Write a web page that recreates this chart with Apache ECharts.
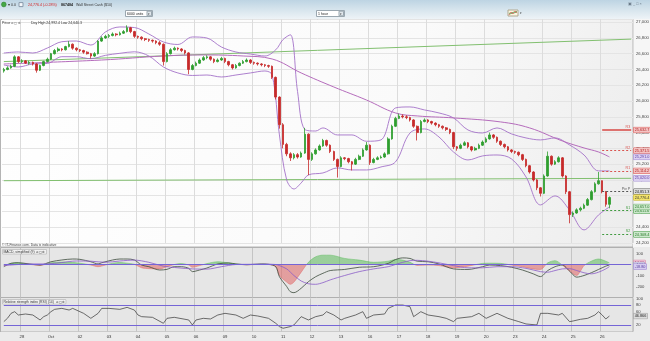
<!DOCTYPE html>
<html><head><meta charset="utf-8">
<script src="https://cdn.jsdelivr.net/npm/echarts/dist/echarts.min.js"></script>
<style>html,body{margin:0;padding:0;background:#ececec;overflow:hidden}#c{width:650px;height:341px}</style>
</head><body><div id="c"></div>
<script>
// ================= DATA =================
const dayLabels = ['27','28','Oct','02','03','04','05','06','09','10','11','12','13','16','17','18','19','20','23','24','25','26'];
const candlesPerDay = [5,8,8,8,8,8,8,8,8,8,8,8,8,8,8,8,8,8,8,8,8,3];
const emptySlots = 6;

// hourly candles: [open, close, low, high]
const ohlc = [
[26380,26400,26360,26420],[26400,26420,26390,26440],[26420,26440,26410,26460],[26440,26560,26430,26580],[26560,26500,26480,26570],
[26500,26510,26480,26530],[26510,26480,26470,26520],[26480,26490,26460,26510],[26490,26470,26450,26500],[26470,26390,26360,26480],[26390,26450,26380,26460],[26450,26500,26440,26510],[26500,26530,26490,26550],
[26530,26600,26520,26610],[26600,26640,26590,26660],[26640,26660,26620,26680],[26660,26650,26630,26670],[26650,26690,26640,26700],[26690,26720,26680,26760],[26720,26670,26650,26730],[26670,26650,26630,26680],
[26650,26640,26620,26660],[26640,26620,26600,26650],[26620,26600,26590,26630],[26600,26570,26540,26610],[26570,26600,26560,26620],[26600,26760,26590,26770],[26760,26800,26750,26820],[26800,26820,26790,26840],
[26820,26830,26800,26850],[26830,26850,26820,26870],[26850,26840,26820,26860],[26840,26860,26830,26880],[26860,26880,26850,26900],[26880,26930,26870,26960],[26930,26880,26860,26940],[26880,26820,26800,26890],
[26820,26810,26790,26830],[26810,26790,26770,26820],[26790,26780,26760,26800],[26780,26770,26750,26790],[26770,26760,26740,26780],[26760,26740,26720,26770],[26740,26720,26700,26760],[26720,26500,26450,26730],
[26500,26600,26490,26620],[26600,26650,26590,26670],[26650,26670,26640,26690],[26670,26660,26640,26680],[26660,26640,26620,26670],[26640,26610,26590,26650],[26610,26400,26340,26620],[26400,26450,26390,26470],
[26450,26480,26440,26500],[26480,26520,26470,26540],[26520,26550,26510,26570],[26550,26560,26530,26580],[26560,26530,26510,26570],[26530,26500,26480,26540],[26500,26520,26490,26540],[26520,26540,26510,26560],
[26540,26500,26480,26550],[26500,26460,26440,26510],[26460,26420,26400,26470],[26420,26450,26410,26470],[26450,26480,26440,26490],[26480,26500,26470,26520],[26500,26520,26490,26540],[26520,26490,26470,26530],
[26490,26480,26460,26500],[26480,26470,26450,26490],[26470,26460,26440,26480],[26460,26450,26430,26470],[26450,26440,26420,26460],[26440,26300,26280,26450],[26300,26050,26020,26310],[26050,25700,25650,26060],
[25700,25450,25400,25720],[25450,25330,25300,25470],[25330,25280,25240,25350],[25280,25320,25260,25340],[25320,25290,25270,25340],[25290,25340,25280,25360],[25340,25580,25330,25660],[25580,25260,25060,25590],
[25260,25330,25240,25350],[25330,25380,25320,25400],[25380,25430,25370,25450],[25430,25500,25420,25520],[25500,25440,25420,25510],[25440,25360,25340,25450],[25360,25260,25240,25370],[25260,25170,25030,25270],
[25170,25280,25160,25300],[25280,25270,25250,25290],[25270,25230,25210,25280],[25230,25200,25120,25240],[25200,25260,25190,25280],[25260,25300,25250,25320],[25300,25380,25290,25400],[25380,25440,25370,25480],
[25440,25220,25190,25450],[25220,25260,25210,25280],[25260,25280,25250,25300],[25280,25290,25270,25310],[25290,25330,25280,25350],[25330,25520,25320,25540],[25520,25680,25510,25700],[25680,25780,25670,25800],
[25780,25810,25770,25840],[25810,25800,25780,25830],[25800,25790,25770,25820],[25790,25760,25740,25800],[25760,25680,25660,25770],[25680,25600,25500,25690],[25600,25740,25590,25760],[25740,25760,25730,25780],
[25760,25740,25720,25770],[25740,25720,25700,25750],[25720,25700,25680,25730],[25700,25680,25660,25710],[25680,25660,25640,25690],[25660,25640,25620,25670],[25640,25600,25580,25650],[25600,25420,25390,25610],
[25420,25400,25370,25430],[25400,25440,25390,25460],[25440,25470,25430,25490],[25470,25420,25400,25480],[25420,25380,25360,25430],[25380,25400,25370,25420],[25400,25440,25390,25460],[25440,25480,25430,25500],
[25480,25520,25470,25540],[25520,25570,25510,25600],[25570,25540,25520,25580],[25540,25490,25470,25550],[25490,25450,25430,25500],[25450,25420,25400,25460],[25420,25380,25360,25430],[25380,25360,25340,25390],
[25360,25350,25330,25370],[25350,25320,25300,25360],[25320,25260,25240,25330],[25260,25180,25160,25270],[25180,25100,25080,25190],[25100,25000,24980,25110],[25000,24900,24870,25010],[24900,24830,24790,24910],
[24830,25050,24820,25070],[25050,25300,25040,25360],[25300,25200,25180,25310],[25200,25230,25190,25250],[25230,25280,25220,25300],[25280,25050,25030,25290],[25050,24850,24820,25060],[24850,24560,24450,24860],
[24560,24580,24530,24600],[24580,24620,24570,24640],[24620,24640,24600,24660],[24640,24680,24630,24700],[24680,24750,24670,24770],[24750,24850,24740,24870],[24850,24950,24840,24970],[24950,24990,24940,25100],
[24990,24850,24830,24992.4],[24850,24690,24660,24860],[24690,24776.4,24640.3,24790]
];

// indicator points: [candle index, value]
const bbUpper = [[0,26609],[4,26622],[8,26609],[12,26672],[16,26752],[20,26761],[24,26710],[28,26875],[32,26939],[36,26932],[40,26850],[44,26749],[48,26717],[52,26812],[56,26799],[60,26685],[64,26622],[68,26596],[72,26571],[75,26650],[77,26780],[79,26840],[81,26120],[83,25640],[86,25620],[88,25659],[92,25570],[96,25570],[100,25490],[104,25507],[108,25912],[112,25925],[116,25887],[120,25849],[124,25786],[128,25633],[132,25595],[136,25659],[140,25583],[144,25532],[148,25507],[152,25532],[156,25443],[160,25316],[164,25114],[167,25114]];
const bbLower = [[0,26457],[4,26432],[8,26470],[12,26476],[16,26562],[20,26562],[24,26536],[28,26579],[32,26605],[36,26624],[40,26571],[44,26432],[48,26356],[52,26324],[56,26330],[60,26305],[64,26330],[68,26356],[72,26381],[74,26330],[76,25570],[78,25000],[80,24885],[82,24962],[84,25063],[88,25088],[92,25152],[96,25126],[100,25126],[104,25164],[108,25228],[112,25595],[116,25646],[120,25544],[124,25354],[128,25253],[132,25304],[136,25316],[140,25266],[144,25037],[148,24683],[152,24797],[156,24619],[160,24366],[164,24556],[167,24657]];
const maLine = [[0,26470],[27,26520],[44,26571],[55,26584],[66,26571],[74,26533],[82,26356],[91,26178],[100,26013],[108,25849],[114,25811],[124,25786],[137,25735],[145,25659],[154,25494],[160,25405],[164,25354],[167,25291]];
const trendUp = [[0,26500],[173,26785]];
const trendFlat = [[0,24990],[173,25020]];

const pivotNames = ['R3','R2','R1','Piv P','S1','S2'];
const pivotValues = [25632.7,25371.5,25114.2,24851.3,24611.6,24308.4];

const macdLine = [[0,-20],[2,11],[4,16],[7,5],[10,-5],[13,25],[16,41],[19,50],[21,47],[24,25],[26,5],[27,16],[30,41],[32,50],[34,50],[36,41],[38,-5],[40,-20],[43,-50],[45,-44],[47,-20],[49,-20],[51,-35],[52,-65],[54,-50],[56,-32],[59,5],[62,14],[64,5],[67,-2],[71,5],[73,2],[75,-20],[76,-111],[78,-200],[79,-247],[80,-256],[82,-216],[84,-156],[86,-111],[88,-80],[90,-55],[94,-45],[98,-25],[102,-20],[106,10],[108,45],[110,60],[112,55],[114,30],[117,25],[120,5],[124,-40],[128,-45],[132,-20],[134,-5],[137,-10],[140,-25],[143,-50],[146,-85],[148,-110],[150,-55],[152,-20],[154,-5],[156,-60],[158,-115],[160,-100],[162,-75],[164,-45],[166,-15],[167,-4.0]];
const signalLine = [[0,-10],[4,0],[8,5],[12,5],[16,18],[20,32],[24,30],[28,20],[32,32],[36,40],[40,20],[44,-15],[48,-30],[52,-40],[56,-42],[60,-20],[64,0],[68,2],[72,3],[75,0],[76,-10],[78,-40],[80,-100],[82,-150],[84,-175],[86,-180],[88,-165],[90,-140],[94,-100],[98,-65],[102,-40],[106,-20],[108,0],[110,20],[112,35],[114,38],[117,30],[120,15],[124,-10],[128,-30],[132,-30],[136,-20],[140,-20],[144,-35],[148,-65],[150,-70],[152,-55],[154,-40],[156,-38],[158,-55],[160,-75],[162,-85],[164,-70],[166,-40],[167,-18.8]];
const macdHist = [[0,-10],[2,10],[4,15],[7,2],[10,-8],[13,15],[16,22],[19,18],[21,12],[24,-5],[26,-20],[28,-5],[30,12],[32,18],[34,12],[36,2],[38,-30],[40,-38],[43,-40],[45,-20],[47,0],[49,8],[51,-5],[52,-25],[54,-10],[56,8],[59,25],[62,15],[64,5],[67,-3],[71,2],[73,0],[75,-20],[76,-100],[78,-160],[79,-180],[80,-160],[82,-70],[84,20],[86,70],[88,85],[90,85],[94,55],[98,40],[102,20],[106,30],[108,45],[110,40],[112,20],[114,-8],[117,-5],[120,-10],[124,-30],[128,-15],[132,10],[134,12],[137,10],[140,-5],[143,-20],[146,-40],[148,-45],[150,15],[152,35],[154,-5],[156,-60],[158,-100],[159,-60],[160,-10],[162,30],[164,50],[166,30],[167,14.6]];
const rsiLine = [[0,30],[1,40],[2,55],[3,60],[4,50],[6,53],[8,50],[10,35],[11,45],[12,50],[13,60],[14,67],[16,70],[18,65],[19,70],[21,60],[22,55],[24,40],[26,55],[27,70],[29,70],[32,67],[34,73],[36,65],[37,50],[38,45],[41,43],[44,25],[45,40],[47,43],[51,35],[52,20],[53,35],[55,40],[57,38],[59,50],[61,55],[64,50],[66,40],[68,50],[70,47],[73,40],[75,25],[76,15],[77,10],[79,15],[80,20],[82,45],[84,35],[86,45],[88,50],[89,60],[91,50],[93,35],[94,40],[97,50],[99,60],[100,40],[102,50],[105,53],[106,70],[108,80],[110,80],[112,75],[113,45],[115,60],[117,50],[120,45],[122,40],[124,30],[125,40],[129,45],[131,55],[133,40],[136,55],[139,40],[142,30],[144,23],[147,20],[148,55],[150,55],[153,50],[154,55],[156,30],[157,32],[159,37],[161,40],[163,50],[164,60],[165,50],[166,38],[167,46.866]];

const priceLabelMax = 27000, priceStep = 200;
const macdMin = -300, macdMax = 150;
const macdTickLabels = [100,-100,-200];
const rsiTickLabels = [100,80,60,40,20];
const rsiBands = [80,20];

// ================= BUILD =================
const FONT = 'Liberation Sans';
const cats = [];
const dayStart = new Set();
const dayStartIdx = [];
dayLabels.forEach((d,i)=>{ dayStart.add(cats.length); dayStartIdx.push(cats.length); for(let k=0;k<candlesPerDay[i];k++) cats.push(d+'|'+k); });
for(let k=0;k<emptySlots;k++) cats.push('|'+k);
const lastIdx = cats.length-1;
const lastDayStart = dayStartIdx[dayStartIdx.length-1];
const isDayTick = (i)=> dayStart.has(i) && i>0;
const toCat = pts => pts.map(p=>[cats[p[0]], p[1]]);
const fmt1 = v => echarts.format.addCommas(v.toFixed(1));
const lastOf = a => a[a.length-1][1];

function tag(v, text, bg, fg, bd){
  return [
    {coord:[cats[lastIdx-1], v], lineStyle:{color:'rgba(0,0,0,0)', width:0}, label:{show:true, position:'end', distance:2.5, formatter:text, fontSize:3.8, fontFamily:FONT, color:fg, backgroundColor:bg, borderColor:bd, borderWidth:0.5, padding:[0.8,1,0.4,1]}},
    {coord:[cats[lastIdx], v]}
  ];
}
const pivotStyle = n => n[0]==='R' ? {c:'#d9534f', bg:'#f3c3c3', fg:'#b02020'} : n[0]==='S' ? {c:'#3f9a3f', bg:'#cce8cc', fg:'#2a7a2a'} : {c:'#555555', bg:'#dcdcdc', fg:'#222'};
const priceMarks = [];
pivotNames.forEach((n,i)=>{
  const v = pivotValues[i], s = pivotStyle(n);
  priceMarks.push([
    {coord:[cats[lastDayStart], v], lineStyle:{color:s.c, width:n==='R3'?1.6:1, type:n==='R3'?'solid':[2,2]},
     label:{show:true, position:'insideEndTop', distance:1, formatter:n, fontSize:3.6, fontFamily:FONT, color:s.c}},
    {coord:[cats[lastIdx], v]}
  ]);
  priceMarks.push(tag(v, fmt1(v), s.bg, s.fg, s.c));
});
priceMarks.push(tag(lastOf(maLine), fmt1(lastOf(maLine)), '#ddd3f2', '#5b3ea6', '#9b82d0'));
priceMarks.push(tag(lastOf(trendFlat), fmt1(lastOf(trendFlat)), '#ddd3f2', '#5b3ea6', '#9b82d0'));
priceMarks.push(tag(lastOf(bbLower), fmt1(lastOf(bbLower)), '#cce8cc', '#2a7a2a', '#6aaa6a'));
const lastClose = ohlc[ohlc.length-1][1];
priceMarks.push(tag(lastClose, fmt1(lastClose), '#f3e36a', '#333', '#c8b530'));

const macdMarks = [
  [{coord:[cats[0],0], lineStyle:{color:'#7565d6', width:1, type:'solid'}, label:{show:false}}, {coord:[cats[lastIdx],0]}],
  tag(lastOf(macdHist), lastOf(macdHist).toFixed(2), '#f2c6d6', '#b03060', '#d080a0'),
  tag(lastOf(macdLine), lastOf(macdLine).toFixed(2), '#e2e2f2', '#404080', '#9090c0'),
  tag(lastOf(signalLine), lastOf(signalLine).toFixed(2), '#d6cdf0', '#5a3fa0', '#9b82d0')
];
const rsiMarks = rsiBands.map(b=>[{coord:[cats[0],b], lineStyle:{color:'#7565d6', width:1, type:'solid'}, label:{show:false}}, {coord:[cats[lastIdx],b]}]);
rsiMarks.push(tag(lastOf(rsiLine), lastOf(rsiLine).toFixed(3), '#dcdcdc', '#222', '#999'));

function txt(x,y,text,size,color,extra){
  return {type:'text', x, y, z:100, silent:true, style:Object.assign({text, fontSize:size, fontFamily:FONT, fill:color, verticalAlign:'middle', align:'left'}, extra||{})};
}
function rect(x,y,w,h,fill,stroke,z){
  return {type:'rect', z:z===undefined?-10:z, silent:true, shape:{x,y,width:w,height:h}, style:{fill, stroke:stroke||null, lineWidth:stroke?1:0}};
}

// MACD grid geometry (used for the sign-split fill gradient)
const macdTop = 248, macdH = 49.5;
const zeroFrac = macdMax/(macdMax - macdMin);
const histFill = {type:'linear', x:0, y:macdTop, x2:0, y2:macdTop+macdH, global:true,
  colorStops:[{offset:0,color:'#5dbb5d'},{offset:zeroFrac,color:'#5dbb5d'},{offset:zeroFrac+0.0005,color:'#e06464'},{offset:1,color:'#e06464'}]};

const graphics = [
  rect(0,0,650,19, {type:'linear',x:0,y:0,x2:0,y2:1,colorStops:[{offset:0,color:'#bdd4e3'},{offset:0.45,color:'#d4e3ec'},{offset:1,color:'#eef3f7'}]}),
  rect(0.5,19.5,632.5,227.5, {type:'linear',x:0,y:0,x2:1,y2:1,colorStops:[{offset:0,color:'#ffffff'},{offset:0.6,color:'#fafafa'},{offset:1,color:'#ececec'}]}, '#b4b4b4'),
  rect(633,19,17,228,'#f6f6f6'),
  rect(0.5,247.5,632.5,50,'#e6e6e6','#b0b0b0'),
  rect(0.5,297.5,632.5,34.5,'#e6e6e6','#b0b0b0'),
  rect(633,247,17,94,'#ebebeb'),
  rect(0,332,633,9,'#ebebeb'),
  // top bar
  {type:'circle', z:100, silent:true, shape:{cx:3.8, cy:4.5, r:2.4}, style:{fill:'#45a845', stroke:'#2d7a2d', lineWidth:0.5}},
  txt(7.5,4.8,'▾',3.5,'#333'),
  txt(11,4.6,'0.0',3.6,'#333'),
  rect(19,2.6,4,4,'#f4f8fb','#8899aa',100),
  txt(28,4.6,'24,776.4 (-0.28%)',3.6,'#d42020'),
  txt(61,4.6,'867484',3.6,'#222',{fontWeight:'bold'}),
  txt(76,4.6,'Wall Street Cash ($10)',3.6,'#333'),
  txt(628,3.8,'▣ _ □ ×',3.8,'#6a7a88'),
  rect(125.5,10.5,27,6,'#ffffff','#9aa7b0',100),
  txt(127,13.6,'6000 units',3.5,'#222'),
  rect(147,11.2,4.5,4.6,'#dfe6eb','#9aa7b0',100),
  txt(148,13.8,'▾',3.2,'#333'),
  rect(316.5,10.5,28,6,'#ffffff','#9aa7b0',100),
  txt(318,13.6,'1 hour',3.5,'#222'),
  rect(339,11.2,4.5,4.6,'#dfe6eb','#9aa7b0',100),
  txt(340,13.8,'▾',3.2,'#333'),
  rect(508,10,10,6,'#fbf6e2','#b0a890',100),
  {type:'polyline', z:101, silent:true, shape:{points:[[509,15],[511,12],[513,14],[515,11],[517,13]]}, style:{stroke:'#d04040', lineWidth:0.7, fill:null}},
  {type:'polyline', z:101, silent:true, shape:{points:[[509,13],[511,14],[513,12],[515,13],[517,11]]}, style:{stroke:'#40a040', lineWidth:0.7, fill:null}},
  txt(519.5,13.6,'▾',3.2,'#333'),
  // panel headers
  txt(2,23.2,'Price',3.6,'#333'),
  txt(10.5,23.2,'⊘ ▢ ⚙',3.4,'#555'),
  txt(31,23.2,'Day High 24,992.4 Low 24,640.3',3.5,'#333'),
  txt(2,244.6,'© IT-Finance.com. Data is indicative',3.4,'#444'),
  txt(2.5,251.8,'MACD, simplified (9)  ⊘▢⚙',3.4,'#333',{backgroundColor:'#f2f2f2', borderColor:'#a0a0a0', borderWidth:0.5, padding:[0.6,1,0.3,1]}),
  txt(2.5,301.8,'Relative strength index (RSI) (14)  ⊘▢⚙',3.4,'#333',{backgroundColor:'#f2f2f2', borderColor:'#a0a0a0', borderWidth:0.5, padding:[0.6,1,0.3,1]})
];

const xAxes = [0,1,2].map(g=>({
  type:'category', gridIndex:g, data:cats, boundaryGap:true,
  axisLine:{show:false}, axisTick:{show:false},
  axisLabel:{show:g===2, interval:(i)=>isDayTick(i), formatter:(val)=>val.split('|')[0], fontSize:4.2, color:'#333', margin:3.5, fontFamily:FONT},
  splitLine:{show:true, interval:(i)=>isDayTick(i), lineStyle:{color:g===0?'#dcdcdc':'#c4c4c4', width:1}}
}));
const yLbl = {fontSize:4.2, color:'#444', margin:3, fontFamily:FONT};
const yAxes = [
  {gridIndex:0, type:'value', position:'right', min:24200, max:27040, interval:priceStep, axisLine:{show:false}, axisTick:{show:false},
   splitLine:{show:true, lineStyle:{color:'#e4e4e4', width:1}},
   axisLabel:Object.assign({formatter:v=>(v%priceStep===0 && v<=priceLabelMax)?echarts.format.addCommas(v):''}, yLbl)},
  {gridIndex:1, type:'value', position:'right', min:macdMin, max:macdMax, interval:100, axisLine:{show:false}, axisTick:{show:false}, splitLine:{show:false},
   axisLabel:Object.assign({formatter:v=>macdTickLabels.includes(v)?String(v):''}, yLbl)},
  {gridIndex:2, type:'value', position:'right', min:0, max:100, interval:20, axisLine:{show:false}, axisTick:{show:false}, splitLine:{show:false},
   axisLabel:Object.assign({formatter:v=>rsiTickLabels.includes(v)?String(v):''}, yLbl)}
];
const lineBase = {type:'line', symbol:'none', clip:false, silent:true, animation:false};

const option = {
  animation:false,
  textStyle:{fontFamily:FONT},
  grid:[
    {left:2, right:17, top:19, height:224, outerBoundsMode:'none', containLabel:false},
    {left:2, right:17, top:macdTop, height:macdH, outerBoundsMode:'none', containLabel:false},
    {left:2, right:17, top:298.4, height:33.2, outerBoundsMode:'none', containLabel:false}
  ],
  xAxis:xAxes, yAxis:yAxes,
  graphic:{elements:graphics},
  series:[
    {type:'candlestick', xAxisIndex:0, yAxisIndex:0, data:ohlc, barWidth:2.1, z:3, silent:true,
     itemStyle:{color:'#2f9e2f', color0:'#c62a2a', borderColor:'#2f9e2f', borderColor0:'#c62a2a', borderWidth:0.8}},
    Object.assign({}, lineBase, {name:'bbU', xAxisIndex:0, yAxisIndex:0, data:toCat(bbUpper), smooth:0.35, lineStyle:{color:'#a472c8', width:0.9}, z:2}),
    Object.assign({}, lineBase, {name:'bbL', xAxisIndex:0, yAxisIndex:0, data:toCat(bbLower), smooth:0.35, lineStyle:{color:'#a472c8', width:0.9}, z:2}),
    Object.assign({}, lineBase, {name:'ma', xAxisIndex:0, yAxisIndex:0, data:toCat(maLine), smooth:0.4, lineStyle:{color:'#b56cbc', width:1}, z:2}),
    Object.assign({}, lineBase, {name:'trUp', xAxisIndex:0, yAxisIndex:0, data:toCat(trendUp), lineStyle:{color:'#82c070', width:1}, z:1,
      markLine:{silent:true, symbol:['none','none'], animation:false, data:priceMarks}}),
    Object.assign({}, lineBase, {name:'trFlat', xAxisIndex:0, yAxisIndex:0, data:toCat(trendFlat), lineStyle:{color:'#82c070', width:1}, z:1}),
    Object.assign({}, lineBase, {name:'hist', xAxisIndex:1, yAxisIndex:1, data:toCat(macdHist), smooth:0.3, lineStyle:{width:0.5, color:histFill}, areaStyle:{color:histFill, opacity:0.55}, z:2}),
    Object.assign({}, lineBase, {name:'macd', xAxisIndex:1, yAxisIndex:1, data:toCat(macdLine), smooth:0.3, lineStyle:{color:'#3b4a3b', width:0.8}, z:3}),
    Object.assign({}, lineBase, {name:'signal', xAxisIndex:1, yAxisIndex:1, data:toCat(signalLine), smooth:0.3, lineStyle:{color:'#8a5cc8', width:0.8}, z:3,
      markLine:{silent:true, symbol:['none','none'], animation:false, data:macdMarks}}),
    Object.assign({}, lineBase, {name:'rsi', xAxisIndex:2, yAxisIndex:2, data:toCat(rsiLine), lineStyle:{color:'#333', width:0.7}, z:3,
      markLine:{silent:true, symbol:['none','none'], animation:false, data:rsiMarks}})
  ]
};
const chart = echarts.init(document.getElementById('c'), null, {renderer:'canvas'});
chart.setOption(option);
</script>
</body></html>
